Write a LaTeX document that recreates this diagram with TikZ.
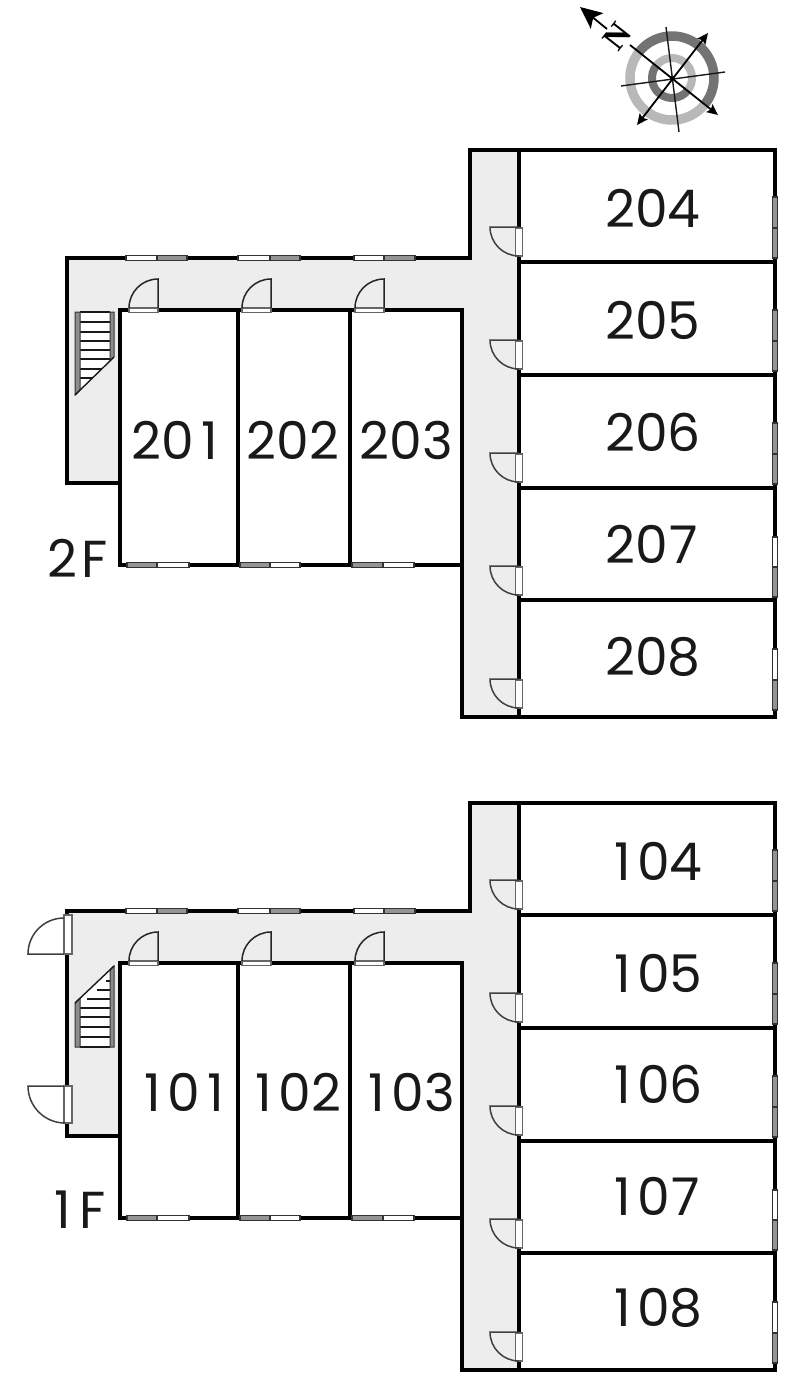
\documentclass[tikz,border=0pt]{standalone}
\usepackage{fontspec}
\usetikzlibrary{arrows.meta}
\setmainfont{Poppins}
\newfontfamily\nfont{Liberation Serif}
\tikzset{
  wall/.style={line width=4.6pt,draw=black,miter limit=10},
  corridor/.style={fill=black!7,draw=none},
  label/.style={font=\fontsize{52}{52}\selectfont,text=black!90,inner sep=0pt},
  winwhite/.style={draw=black!80,line width=1.1pt,fill=white},
  wingray/.style={draw=black!80,line width=1.1pt,fill=black!42},
  jamb/.style={draw=black!60,line width=1.3pt,fill=white},
  leaf/.style={draw=black!75,line width=1.5pt},
  tread/.style={draw=black!90,line width=1.4pt},
  stringer/.style={draw=black!80,line width=1pt,fill=black!45},
}
% digits on a fixed pitch, as the plan prints them
\newcommand{\tn}[3]{\makebox[31.5pt]{#1}\makebox[31.5pt]{#2}\makebox[31.5pt]{#3}}
% horizontal window: x0 x1 x2 y, left colour, right colour
\newcommand{\hwin}[6]{\draw[#5] (#1,#4-2.7) rectangle (#2,#4+2.7);\draw[#6] (#2,#4-2.7) rectangle (#3,#4+2.7);}
% vertical window: y0 y1 y2 x
\newcommand{\vwin}[6]{\draw[#5] (#4-2.2,#1) rectangle (#4+2.2,#2);\draw[#6] (#4-2.2,#2) rectangle (#4+2.2,#3);}
% door on the corridor wall: y is the leaf's y
\newcommand{\rdoor}[1]{\draw[jamb] (515.5,#1+1) rectangle (522.5,#1+29);
  \draw[leaf] (519,#1+29) arc[start angle=270,end angle=180,radius=29pt] -- (519,#1);}
% door on top of a room: x is the leaf's x
\newcommand{\tdoor}[1]{\draw[jamb] (#1-29,308) rectangle (#1,312.5);
  \draw[leaf,draw=black!85] (#1-29,308) arc[start angle=180,end angle=90,radius=29pt] -- (#1,308);}
\newcommand{\plan}{
  \fill[corridor] (470,150) -- (519,150) -- (519,717) -- (462,717) -- (462,310) -- (120,310) -- (120,483) -- (67,483) -- (67,258) -- (470,258) -- cycle;
  \draw[wall] (519,150) rectangle (775,717);
  \draw[wall] (519,150) -- (470,150) -- (470,258) -- (67,258) -- (67,483) -- (120,483);
  \draw[wall] (120,310) rectangle (462,565);
  \draw[wall] (462,565) -- (462,717) -- (519,717);
  \draw[wall] (238,310) -- (238,565);
  \draw[wall] (350,310) -- (350,565);
  \foreach \yy in {262,375,488,600} {\draw[wall] (519,\yy) -- (775,\yy);}
  \hwin{126}{157}{187}{258}{winwhite}{wingray}
  \hwin{238}{270}{300}{258}{winwhite}{wingray}
  \hwin{354}{384}{415}{258}{winwhite}{wingray}
  \hwin{127}{157}{189}{565}{wingray}{winwhite}
  \hwin{240}{270}{300}{565}{wingray}{winwhite}
  \hwin{352}{383}{414}{565}{wingray}{winwhite}
  \foreach \yy in {227,340,453,566,679} {\rdoor{\yy}}
  \foreach \xx in {158,271,384} {\tdoor{\xx}}
}
\begin{document}
\begin{tikzpicture}[x=1pt,y=-1pt]
\useasboundingbox (0,0) rectangle (800,1381);
\fill[white] (0,0) rectangle (800,1381);
% ---- 2F
\plan
\vwin{197}{228}{258}{775}{wingray}{wingray}
\vwin{310}{341}{371}{775}{wingray}{wingray}
\vwin{423}{454}{484}{775}{wingray}{wingray}
\vwin{537}{567}{597}{775}{winwhite}{wingray}
\vwin{649}{680}{710}{775}{winwhite}{wingray}
% stairs 2F
\draw[draw=none,fill=white] (75,312) -- (114,312) -- (114,357) -- (75,395) -- cycle;
\draw[tread] (80,312) -- (110,312);
\foreach \yy/\xe in {322/110,332/110,341/110,350/110,359/110,369/102,378/93} {\draw[tread] (80,\yy) -- (\xe,\yy);}
\draw[stringer] (75,312) -- (80,312) -- (80,390) -- (75,395) -- cycle;
\draw[stringer] (110,312) -- (114,312) -- (114,357) -- (110,361) -- cycle;
\draw[tread] (114,357) -- (75,395);
% ---- 1F
\begin{scope}[shift={(0,653)}]
\plan
\end{scope}
\vwin{850}{881}{911}{775}{wingray}{wingray}
\vwin{963}{994}{1024}{775}{wingray}{wingray}
\vwin{1076}{1107}{1137}{775}{wingray}{wingray}
\vwin{1190}{1220}{1250}{775}{winwhite}{wingray}
\vwin{1302}{1333}{1363}{775}{winwhite}{wingray}
% stairs 1F
\draw[draw=none,fill=white] (75,1047) -- (114,1047) -- (114,966) -- (75,1003) -- cycle;
\foreach \yy/\xs in {1037/80,1027/80,1017/80,1008/80,999/87,990/97,981/106} {\draw[tread] (\xs,\yy) -- (110,\yy);}
\draw[tread] (80,1047) -- (110,1047);
\draw[stringer] (75,1047) -- (80,1047) -- (80,998) -- (75,1003) -- cycle;
\draw[stringer] (110,1047) -- (114,1047) -- (114,966) -- (110,970) -- cycle;
\draw[tread] (114,966) -- (75,1003);
% entrance doors 1F
\draw[jamb] (64,915) rectangle (72,954);
\draw[leaf] (64,954) -- (28,954) arc[start angle=180,end angle=90,radius=36pt];
\draw[jamb] (64,1086) rectangle (72,1123);
\draw[leaf] (64,1086) -- (28,1086) arc[start angle=180,end angle=270,radius=37pt];
% ---- labels
\node[label] (r204) at (652,208.5) {\tn204};
\node[label] (r205) at (652,320.5) {\tn205};
\node[label] (r206) at (652,432.5) {\tn206};
\node[label] (r207) at (652,544.5) {\tn207};
\node[label] (r208) at (652,656.5) {\tn208};
\node[label] (r201) at (178,440.5) {\tn201};
\node[label] (r202) at (293,440.5) {\tn202};
\node[label] (r203) at (406,440.5) {\tn203};
\node[label] (f2) at (77.5,558) {2\kern4pt F};
\node[label] (r104) at (654,861.5) {\tn104};
\node[label] (r105) at (654,973.5) {\tn105};
\node[label] (r106) at (654,1084.5) {\tn106};
\node[label] (r107) at (654,1196.5) {\tn107};
\node[label] (r108) at (654,1307.5) {\tn108};
\node[label] (r101) at (184,1092.5) {\tn101};
\node[label] (r102) at (295,1092.5) {\tn102};
\node[label] (r103) at (408,1092.5) {\tn103};
\node[label] (f1) at (80,1210) {1\kern8pt F};
% ---- compass
\coordinate (cc) at (672,78);
\draw[black!55,line width=9.5pt] (cc) ++(142:42pt) arc[start angle=142,end angle=-38,radius=42pt];
\draw[black!28,line width=9.5pt] (cc) ++(-38:42pt) arc[start angle=-38,end angle=-218,radius=42pt];
\draw[black!28,line width=8pt] (cc) ++(142:20pt) arc[start angle=142,end angle=-38,radius=20pt];
\draw[black!55,line width=8pt] (cc) ++(-38:20pt) arc[start angle=-38,end angle=-218,radius=20pt];
\coordinate (nw) at (630,45);
\coordinate (se) at (718,115);
\coordinate (ne) at (708,33);
\coordinate (sw) at (637,125);
\coordinate (nn) at (666,27);
\coordinate (ss) at (679,132);
\coordinate (ww) at (621,86);
\coordinate (ee) at (725,72);
\coordinate (tip) at (580,7);
\coordinate (tail) at (607,29);
\draw[line width=1.4pt,black!90] (nn) -- (ss);
\draw[line width=1.4pt,black!90] (ww) -- (ee);
\draw[line width=1.8pt,black,-{Stealth[length=11pt,width=10pt,inset=2pt]}] (nw) -- (se);
\draw[line width=1.8pt,black,{Stealth[length=11pt,width=10pt,inset=2pt]}-{Stealth[length=11pt,width=10pt,inset=2pt]}] (sw) -- (ne);
\draw[line width=1.8pt,black,-{Stealth[length=22pt,width=20pt,inset=5pt]}] (tail) -- (tip);
\node[font=\nfont\bfseries\fontsize{33}{33}\selectfont,rotate=52,inner sep=0pt] (north) at (617,36) {N};
\fill[black] (cc) circle (2.2pt);
\end{tikzpicture}
\end{document}
